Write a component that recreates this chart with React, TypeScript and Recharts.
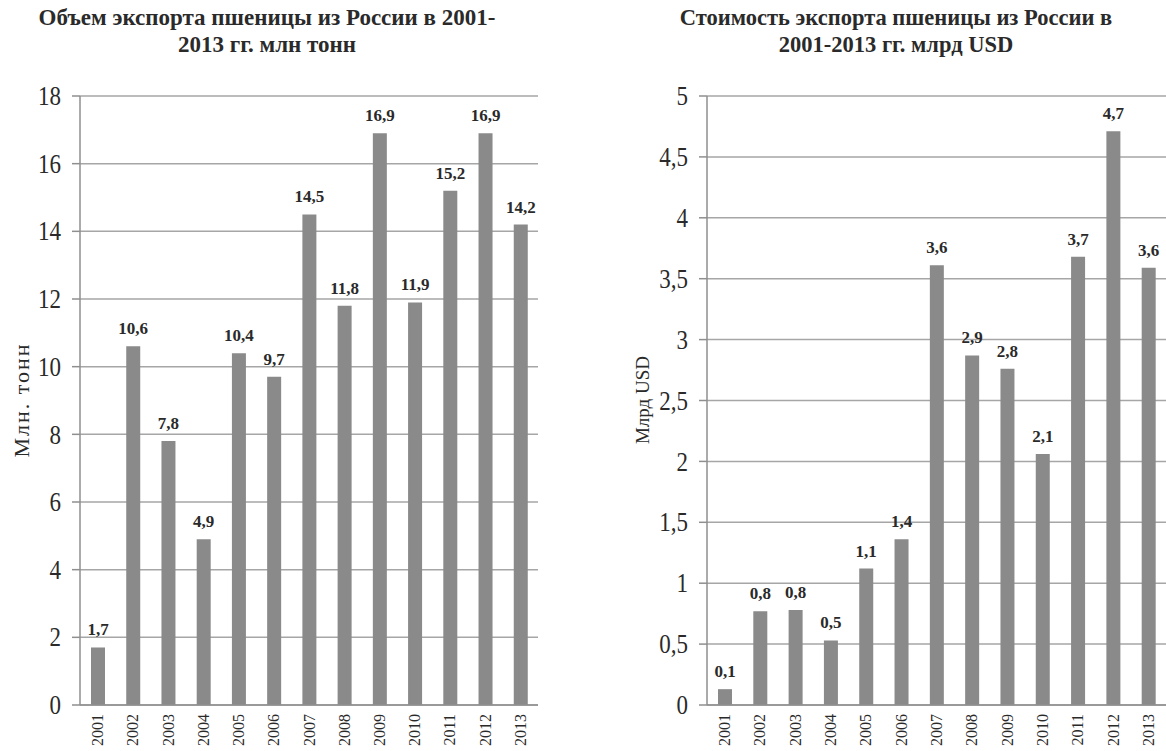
import React from 'react';
import { BarChart, Bar, XAxis, YAxis, CartesianGrid, LabelList } from 'recharts';

const years = ['2001', '2002', '2003', '2004', '2005', '2006', '2007', '2008', '2009', '2010', '2011', '2012', '2013'];
const volumeMt = [1.7, 10.6, 7.8, 4.9, 10.4, 9.7, 14.5, 11.8, 16.9, 11.9, 15.2, 16.9, 14.2];
const valueBnUsd = [0.13, 0.77, 0.78, 0.53, 1.12, 1.36, 3.61, 2.87, 2.76, 2.06, 3.68, 4.71, 3.59];
const volumeTicks = [0, 2, 4, 6, 8, 10, 12, 14, 16, 18];
const valueTicks = [0, 0.5, 1, 1.5, 2, 2.5, 3, 3.5, 4, 4.5, 5];
const boundaryTicks = [0, 1, 2, 3, 4, 5, 6, 7, 8, 9, 10, 11, 12, 13];

const leftTitle = ['Объем экспорта пшеницы из России в 2001-', '2013 гг. млн тонн'];
const rightTitle = ['Стоимость экспорта пшеницы из России в', '2001-2013 гг. млрд USD'];
const leftYLabel = 'Млн. тонн';
const rightYLabel = 'Млрд USD';

const SERIF = 'Liberation Serif, Times New Roman, serif';
const BAR = '#8a8a8a';
const GRID = '#a6a6a6';
const AXIS = '#8f8f8f';
const TEXT = '#2a2a2a';

const volumeData = years.map((y, i) => ({ year: y, v: volumeMt[i] }));
const valueData = years.map((y, i) => ({ year: y, v: valueBnUsd[i] }));

const comma = (v: number) => String(v).replace('.', ',');
const label1 = (v: any) => Number(v).toFixed(1).replace('.', ',');

const YearTick = (props: any) => {
  const { x, y, payload } = props;
  return (
    <text
      x={x}
      y={y}
      transform={`rotate(-90 ${x} ${y})`}
      textAnchor="end"
      dominantBaseline="central"
      fill={TEXT}
      style={{ fontFamily: SERIF, fontSize: 16 }}
    >
      {payload.value}
    </text>
  );
};

const ValueTick = (props: any) => {
  const { x, y, payload } = props;
  return (
    <text
      x={x}
      y={y}
      textAnchor="end"
      dominantBaseline="central"
      transform={`translate(0 ${y}) scale(1 1.18) translate(0 ${-y})`}
      fill={TEXT}
      style={{ fontFamily: SERIF, fontSize: 23 }}
    >
      {comma(payload.value)}
    </text>
  );
};

function Panel(props: {
  data: { year: string; v: number }[];
  ticks: number[];
  domainMax: number;
  yWidth: number;
  tickMargin: number;
  width: number;
  right: number;
}) {
  const { data, ticks, domainMax, yWidth, tickMargin, width, right } = props;
  return (
    <BarChart
      width={width}
      height={751}
      data={data}
      margin={{ top: 96, right, bottom: 6, left: 0 }}
      barCategoryGap={0}
    >
      <CartesianGrid xAxisId="cat" yAxisId="y" vertical={false} stroke={GRID} strokeWidth={1.5} />
      <XAxis
        xAxisId="b"
        type="number"
        domain={[0, 13]}
        ticks={boundaryTicks}
        allowDataOverflow
        height={0}
        axisLine={false}
        tickFormatter={() => ''}
        tickSize={5}
        tickLine={{ stroke: AXIS, strokeWidth: 1.5 }}
      />
      <XAxis
        xAxisId="cat"
        dataKey="year"
        height={40}
        tickLine={false}
        tickSize={0}
        tickMargin={9}
        axisLine={{ stroke: AXIS, strokeWidth: 1.5 }}
        tick={(p: any) => <YearTick {...p} />}
        interval={0}
      />
      <YAxis
        yAxisId="y"
        width={yWidth}
        domain={[0, domainMax]}
        ticks={ticks}
        interval={0}
        tickSize={8}
        tickMargin={tickMargin}
        axisLine={{ stroke: AXIS, strokeWidth: 1.5 }}
        tickLine={{ stroke: AXIS, strokeWidth: 1.5 }}
        tick={(p: any) => <ValueTick {...p} />}
      />
      <Bar xAxisId="cat" yAxisId="y" dataKey="v" fill={BAR} barSize={14} isAnimationActive={false}>
        <LabelList
          dataKey="v"
          position="top"
          offset={12}
          formatter={label1}
          style={{ fontSize: 17, fontFamily: SERIF, fontWeight: 'bold', fill: TEXT }}
        />
      </Bar>
    </BarChart>
  );
}

const titleStyle = (cx: number, size: number): React.CSSProperties => ({
  position: 'absolute',
  left: cx,
  top: 4,
  transform: 'translateX(-50%)',
  textAlign: 'center',
  whiteSpace: 'nowrap',
  fontFamily: SERIF,
  fontWeight: 'bold',
  fontSize: size,
  lineHeight: '27px',
  color: TEXT,
});

const yLabelStyle = (cx: number, size: number, spacing: number): React.CSSProperties => ({
  position: 'absolute',
  left: cx,
  top: 400,
  transform: 'translate(-50%, -50%) rotate(-90deg)',
  whiteSpace: 'nowrap',
  fontFamily: SERIF,
  fontSize: size,
  letterSpacing: spacing,
  color: TEXT,
});

export default function App() {
  return (
    <div style={{ position: 'absolute', left: 0, top: 0, width: 1166, height: 751, background: '#fff', overflow: 'hidden' }}>
      <div style={{ position: 'absolute', left: 0, top: 0 }}>
        <Panel data={volumeData} ticks={volumeTicks} domainMax={18} yWidth={80} tickMargin={11} width={560} right={22} />
      </div>
      <div style={{ position: 'absolute', left: 600, top: 0 }}>
        <Panel data={valueData} ticks={valueTicks} domainMax={5} yWidth={107} tickMargin={11} width={566} right={0} />
      </div>
      <div style={titleStyle(267, 23)}>
        {leftTitle[0]}
        <br />
        {leftTitle[1]}
      </div>
      <div style={titleStyle(896, 22.5)}>
        {rightTitle[0]}
        <br />
        {rightTitle[1]}
      </div>
      <div style={yLabelStyle(22, 22, 2)}>{leftYLabel}</div>
      <div style={yLabelStyle(643, 19, 0)}>{rightYLabel}</div>
    </div>
  );
}
